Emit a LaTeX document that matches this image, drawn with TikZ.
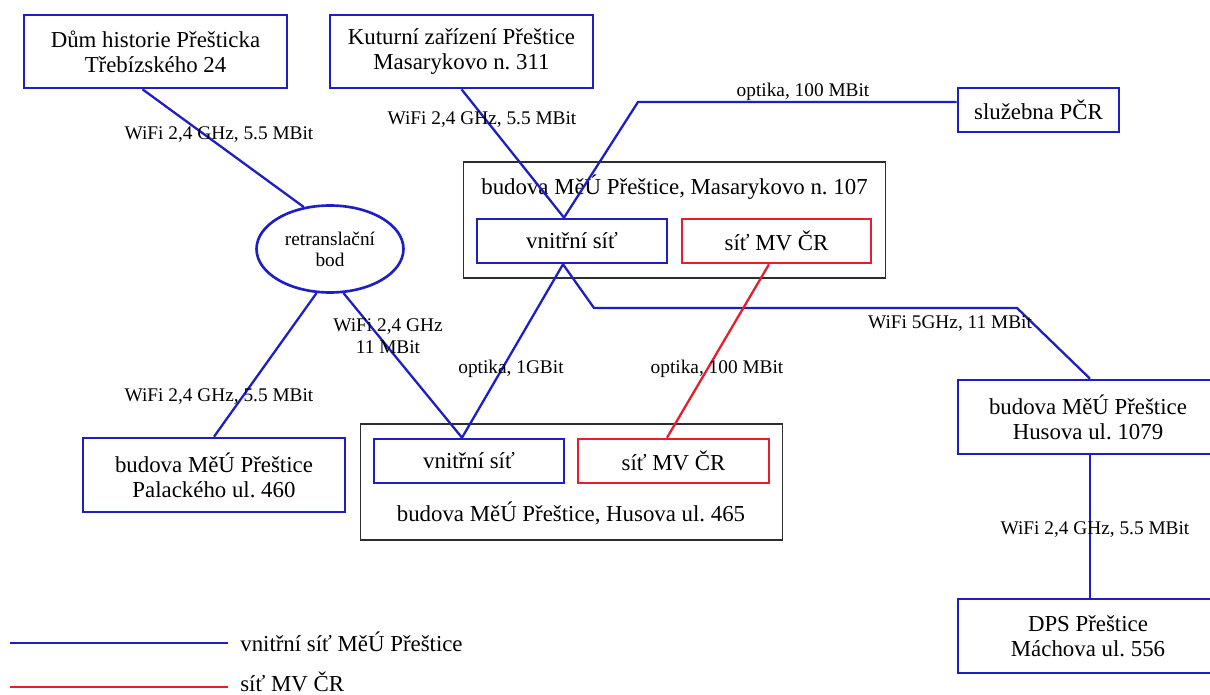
\documentclass[tikz,border=0pt]{standalone}
\usepackage{fontspec}
\setmainfont{Liberation Serif}
\usetikzlibrary{shapes.geometric}
\definecolor{netblue}{RGB}{30,30,195}
\definecolor{netred}{RGB}{228,30,45}
\definecolor{grpgray}{RGB}{45,45,45}
\tikzset{
  boxtext/.style={font=\fontsize{13}{14.2}\selectfont},
  bluebox/.style={draw=netblue, line width=1.5pt, rectangle, inner sep=0pt, align=center, boxtext},
  redbox/.style={draw=netred, line width=1.5pt, rectangle, inner sep=0pt, align=center, boxtext},
  grpbox/.style={draw=grpgray, line width=0.6pt, rectangle, inner sep=0pt},
  lbl/.style={font=\fontsize{11}{12.5}\selectfont, inner sep=0pt, align=center},
  bluelink/.style={draw=netblue, line width=1.3pt},
  redlink/.style={draw=netred, line width=1.3pt},
}
\begin{document}
\frenchspacing
\begin{tikzpicture}[x=0.02cm,y=-0.02cm]
\clip (0,0) rectangle (1210,695);
\fill[white] (0,0) rectangle (1210,695);

% group boxes
\node[grpbox, minimum width=8.46cm, minimum height=2.32cm] (mas) at (674.5,220) {};
\node[boxtext] (mastitle) at (674.5,187) {budova MěÚ Přeštice, Masarykovo n. 107};
\node[bluebox, minimum width=3.8cm, minimum height=0.88cm] (vs1) at (572,241) {vnitřní síť};
\node[redbox, minimum width=3.78cm, minimum height=0.88cm] (mv1) at (776.5,241) {síť MV ČR};

\node[grpbox, minimum width=8.46cm, minimum height=2.32cm] (hus) at (571.5,482) {};
\node[boxtext] (hustitle) at (571,513) {budova MěÚ Přeštice, Husova ul. 465};
\node[bluebox, minimum width=3.8cm, minimum height=0.88cm] (vs2) at (469,461) {vnitřní síť};
\node[redbox, minimum width=3.82cm, minimum height=0.88cm] (mv2) at (673.5,461) {síť MV ČR};

% other nodes
\node[bluebox, minimum width=5.26cm, minimum height=1.46cm] (dum) at (155.5,51.5) {Dům historie Přešticka\\Třebízského 24};
\node[bluebox, minimum width=5.26cm, minimum height=1.46cm] (kult) at (461.5,51.5) {Kuturní zařízení Přeštice\\Masarykovo n. 311};
\node[bluebox, minimum width=3.22cm, minimum height=0.88cm] (sluz) at (1038.5,110) {služebna PČR};
\node[bluebox, ellipse, minimum width=2.94cm, minimum height=1.74cm, font=\fontsize{11}{12}\selectfont] (retr) at (330,249) {retranslační\\bod};
\node[bluebox, minimum width=5.24cm, minimum height=1.48cm] (pal) at (214,475) {budova MěÚ Přeštice\\Palackého ul. 460};
\node[bluebox, minimum width=5.2cm, minimum height=1.48cm] (hus1079) at (1088,417) {budova MěÚ Přeštice\\Husova ul. 1079};
\node[bluebox, minimum width=5.2cm, minimum height=1.48cm] (dps) at (1088,636) {DPS Přeštice\\Máchova ul. 556};

% connectors
\draw[bluelink] ([xshift=-0.26cm]dum.south) -- (retr.122);
\draw[bluelink] (kult.south) -- ([xshift=-0.16cm]vs1.north);
\coordinate (k1) at (638,102);
\draw[bluelink] ([xshift=-0.16cm]vs1.north) -- (k1) -- (k1 -| sluz.west);
\coordinate (k2) at (594,308);
\coordinate (k3) at (1017,308);
\draw[bluelink] ([xshift=-0.18cm]vs1.south) -- (k2) -- (k3) -- ([xshift=0.04cm]hus1079.north);
\draw[bluelink] ([xshift=-0.18cm]vs1.south) -- ([xshift=-0.14cm]vs2.north);
\draw[bluelink] (retr.287) -- ([xshift=-0.14cm]vs2.north);
\draw[bluelink] (retr.253) -- (pal.north);
\draw[redlink] ([xshift=-0.15cm]mv1.south) -- ([xshift=-0.13cm]mv2.north);
\draw[bluelink] ([xshift=0.04cm]hus1079.south) -- ([xshift=0.04cm]dps.north);

% labels
\node[lbl] (l1) at (219,135) {WiFi 2,4 GHz, 5.5 MBit};
\node[lbl] (l2) at (482,120) {WiFi 2,4 GHz, 5.5 MBit};
\node[lbl] (l3) at (803,92) {optika, 100 MBit};
\node[lbl] (l4) at (219,397) {WiFi 2,4 GHz, 5.5 MBit};
\node[lbl] (l5) at (388,336) {WiFi 2,4 GHz\\11 MBit};
\node[lbl] (l6) at (511,369) {optika, 1GBit};
\node[lbl] (l7) at (717,369) {optika, 100 MBit};
\node[lbl] (l8) at (950,324) {WiFi 5GHz, 11 MBit};
\node[lbl] (l9) at (1095,530) {WiFi 2,4 GHz, 5.5 MBit};

% legend
\coordinate (la1) at (10,643);
\coordinate (lb1) at (228,643);
\draw[bluelink] (la1) -- (lb1);
\node[boxtext, anchor=west, inner sep=0pt] (leg1) at (240,642) {vnitřní síť MěÚ Přeštice};
\coordinate (la2) at (10,687);
\coordinate (lb2) at (228,687);
\draw[redlink] (la2) -- (lb2);
\node[boxtext, anchor=west, inner sep=0pt] (leg2) at (240,682) {síť MV ČR};
\end{tikzpicture}
\end{document}
